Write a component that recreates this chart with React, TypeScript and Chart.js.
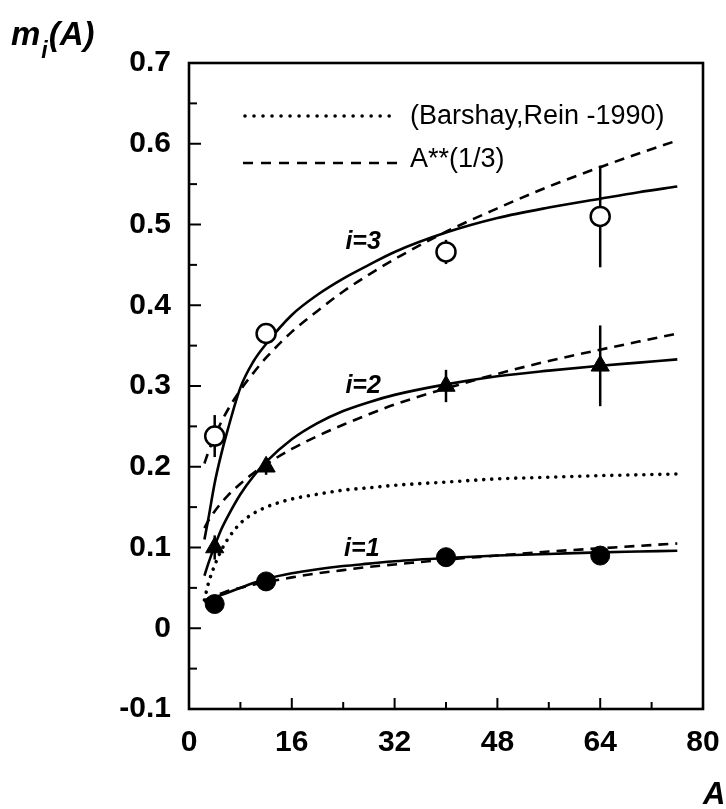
import React, { useEffect, useRef } from 'react';
import { Chart, registerables } from 'chart.js';

Chart.register(...registerables);

// ---------- data ----------
const xTicks = [0, 16, 32, 48, 64, 80];
const yTicks = [-0.1, 0, 0.1, 0.2, 0.3, 0.4, 0.5, 0.6, 0.7];
const yTickLabels = ['-0.1', '0', '0.1', '0.2', '0.3', '0.4', '0.5', '0.6', '0.7'];

// measured points (A = mass number)
const massNumbers = [4, 12, 40, 64];
const m1Values = [0.03, 0.058, 0.088, 0.09];
const m1Errors = [0.005, 0.005, 0.005, 0.005];
const m2Values = [0.1, 0.2, 0.3, 0.325];
const m2Errors = [0.015, 0.01, 0.02, 0.05];
const m3Values = [0.238, 0.365, 0.466, 0.51];
const m3Errors = [0.026, 0.013, 0.015, 0.063];

// curves
const curveA = [2.4, 3, 4, 5, 6, 8, 10, 12, 16, 20, 24, 28, 32, 40, 48, 56, 64, 70, 76];
const fit1 = [0.032, 0.034, 0.038, 0.041, 0.044, 0.05, 0.056, 0.061, 0.068, 0.073, 0.077, 0.08, 0.083, 0.087, 0.09, 0.092, 0.094, 0.095, 0.096];
const fit2 = [0.065, 0.08, 0.102, 0.122, 0.138, 0.166, 0.188, 0.206, 0.234, 0.254, 0.269, 0.28, 0.289, 0.302, 0.312, 0.319, 0.325, 0.329, 0.333];
const fit3 = [0.11, 0.135, 0.18, 0.215, 0.245, 0.298, 0.33, 0.352, 0.388, 0.413, 0.433, 0.45, 0.466, 0.49, 0.508, 0.521, 0.532, 0.54, 0.547];
const cube1 = [0.034, 0.037, 0.04, 0.043, 0.046, 0.05, 0.054, 0.057, 0.063, 0.068, 0.072, 0.076, 0.079, 0.085, 0.09, 0.095, 0.099, 0.102, 0.105];
const cube2 = [0.124, 0.133, 0.145, 0.155, 0.164, 0.179, 0.192, 0.203, 0.222, 0.238, 0.252, 0.265, 0.277, 0.297, 0.315, 0.331, 0.345, 0.355, 0.365];
const cube3 = [0.204, 0.218, 0.238, 0.255, 0.27, 0.295, 0.316, 0.335, 0.367, 0.393, 0.417, 0.438, 0.457, 0.491, 0.52, 0.547, 0.571, 0.588, 0.604];
const barshay = [0.035, 0.055, 0.078, 0.096, 0.11, 0.13, 0.142, 0.15, 0.16, 0.166, 0.171, 0.174, 0.177, 0.181, 0.185, 0.187, 0.189, 0.19, 0.191];

const legendLabels = ['(Barshay,Rein -1990)', 'A**(1/3)'];
const curveLabels = ['i=1', 'i=2', 'i=3'];
const curveLabelA = [26.9, 27.1, 27.1];
const curveLabelY = [0.098, 0.3, 0.478];

const FONT = '"Liberation Sans", Arial, Helvetica, sans-serif';

const toPts = (xs: number[], ys: number[]) => xs.map((x, i) => ({ x, y: ys[i] }));

const errorSets = [
  { values: m1Values, errors: m1Errors },
  { values: m2Values, errors: m2Errors },
  { values: m3Values, errors: m3Errors },
];

const errorBarPlugin = {
  id: 'errorBars',
  beforeDatasetsDraw(chart: any) {
    const { ctx, scales } = chart;
    const xs = scales.x;
    const ys = scales.y;
    ctx.save();
    ctx.strokeStyle = '#000';
    ctx.lineWidth = 2.5;
    errorSets.forEach((s) => {
      massNumbers.forEach((a, i) => {
        const px = xs.getPixelForValue(a);
        ctx.beginPath();
        ctx.moveTo(px, ys.getPixelForValue(s.values[i] - s.errors[i]));
        ctx.lineTo(px, ys.getPixelForValue(s.values[i] + s.errors[i]));
        ctx.stroke();
      });
    });
    ctx.restore();
  },
};

const framePlugin = {
  id: 'frameDecor',
  afterDraw(chart: any) {
    const { ctx, chartArea: ca, scales } = chart;
    const xs = scales.x;
    const ys = scales.y;
    ctx.save();
    ctx.strokeStyle = '#000';
    ctx.fillStyle = '#000';
    // box
    ctx.lineWidth = 2.6;
    ctx.setLineDash([]);
    ctx.strokeRect(ca.left, ca.top, ca.right - ca.left, ca.bottom - ca.top);
    // y ticks (inside)
    ctx.lineWidth = 2;
    for (let k = 0; k <= 16; k++) {
      const v = -0.1 + k * 0.05;
      const py = ys.getPixelForValue(v);
      const len = k % 2 === 0 ? 12 : 8;
      ctx.beginPath();
      ctx.moveTo(ca.left, py);
      ctx.lineTo(ca.left + len, py);
      ctx.stroke();
    }
    // x ticks (inside)
    for (let v = 8; v < 80; v += 8) {
      const px = xs.getPixelForValue(v);
      const len = v % 16 === 0 ? 11 : 7;
      ctx.beginPath();
      ctx.moveTo(px, ca.bottom);
      ctx.lineTo(px, ca.bottom - len);
      ctx.stroke();
    }
    // legend
    const lx0 = ca.left + 56;
    const lx1 = ca.left + 209;
    const ly1 = ca.top + 53;
    const ly2 = ca.top + 100;
    ctx.lineWidth = 3.6;
    ctx.lineCap = 'round';
    ctx.setLineDash([0.01, 9]);
    ctx.beginPath();
    ctx.moveTo(lx0, ly1);
    ctx.lineTo(lx1, ly1);
    ctx.stroke();
    ctx.lineCap = 'butt';
    ctx.lineWidth = 2.6;
    ctx.setLineDash([10, 8]);
    ctx.beginPath();
    ctx.moveTo(lx0 - 2, ly2);
    ctx.lineTo(lx1, ly2);
    ctx.stroke();
    ctx.setLineDash([]);
    ctx.font = `27px ${FONT}`;
    ctx.textAlign = 'left';
    ctx.textBaseline = 'middle';
    ctx.fillText(legendLabels[0], lx1 + 12, ly1 + 1);
    ctx.fillText(legendLabels[1], lx1 + 12, ly2 - 3);
    // curve labels
    ctx.font = `italic bold 25px ${FONT}`;
    ctx.textAlign = 'center';
    curveLabels.forEach((t, i) => {
      ctx.fillText(t, xs.getPixelForValue(curveLabelA[i]), ys.getPixelForValue(curveLabelY[i]));
    });
    // axis titles
    ctx.textAlign = 'left';
    ctx.textBaseline = 'alphabetic';
    ctx.font = `italic bold 33px ${FONT}`;
    ctx.fillText('m', 11, 45);
    const mw = ctx.measureText('m').width;
    ctx.font = `italic bold 23px ${FONT}`;
    ctx.fillText('i', 11 + mw + 1, 58);
    const iw = ctx.measureText('i').width;
    ctx.font = `italic bold 33px ${FONT}`;
    ctx.fillText('(A)', 11 + mw + iw + 2, 45);
    ctx.font = `italic bold 31px ${FONT}`;
    ctx.fillText('A', ca.right, 804);
    ctx.restore();
  },
};

export default function App() {
  const ref = useRef<HTMLCanvasElement | null>(null);

  useEffect(() => {
    if (!ref.current) return;
    const solid = { showLine: true, pointRadius: 0, borderColor: '#000', borderWidth: 2.6, cubicInterpolationMode: 'monotone' as const, fill: false };
    const dashed = { ...solid, borderDash: [10, 7] };
    const dotted = { ...solid, borderDash: [0.01, 8], borderCapStyle: 'round' as const, borderWidth: 3.6 };
    const chart = new Chart(ref.current, {
      type: 'scatter',
      data: {
        datasets: [
          { label: 'm3', data: toPts(massNumbers, m3Values), pointStyle: 'circle', pointRadius: 9.5, backgroundColor: '#fff', borderColor: '#000', borderWidth: 2.5, showLine: false },
          { label: 'm2', data: toPts(massNumbers, m2Values), pointStyle: 'triangle', pointRadius: 10.5, backgroundColor: '#000', borderColor: '#000', borderWidth: 1, showLine: false },
          { label: 'm1', data: toPts(massNumbers, m1Values), pointStyle: 'circle', pointRadius: 9.5, backgroundColor: '#000', borderColor: '#000', borderWidth: 1, showLine: false },
          { label: 'fit3', data: toPts(curveA, fit3), ...solid },
          { label: 'fit2', data: toPts(curveA, fit2), ...solid },
          { label: 'fit1', data: toPts(curveA, fit1), ...solid },
          { label: 'cube3', data: toPts(curveA, cube3), ...dashed },
          { label: 'cube2', data: toPts(curveA, cube2), ...dashed },
          { label: 'cube1', data: toPts(curveA, cube1), ...dashed },
          { label: 'barshay', data: toPts(curveA, barshay), ...dotted },
        ] as any,
      },
      options: {
        responsive: false,
        animation: false,
        events: [],
        layout: { padding: { left: 0, top: 63, right: 23, bottom: 0 } },
        plugins: { legend: { display: false }, tooltip: { enabled: false } },
        scales: {
          x: {
            type: 'linear',
            min: 0,
            max: 80,
            afterBuildTicks: (s: any) => { s.ticks = xTicks.map((v) => ({ value: v })); },
            afterFit: (s: any) => { s.height = 100; s.paddingLeft = 0; s.paddingRight = 0; },
            grid: { display: false, drawTicks: false, tickLength: 0 },
            border: { display: false },
            ticks: { color: '#000', font: { family: FONT, size: 30, weight: 'bold' }, padding: 16, maxRotation: 0, autoSkip: false },
          },
          y: {
            type: 'linear',
            min: -0.1,
            max: 0.7,
            afterBuildTicks: (s: any) => { s.ticks = yTicks.map((v) => ({ value: v })); },
            afterFit: (s: any) => { s.width = 189; s.paddingTop = 0; s.paddingBottom = 0; },
            grid: { display: false, drawTicks: false, tickLength: 0 },
            border: { display: false },
            ticks: { color: '#000', font: { family: FONT, size: 30, weight: 'bold' }, padding: 18, autoSkip: false, callback: (_v: any, i: number) => yTickLabels[i] },
          },
        },
      } as any,
      plugins: [errorBarPlugin, framePlugin],
    });
    return () => chart.destroy();
  }, []);

  return (
    <div style={{ position: 'absolute', left: 0, top: 0, width: 726, height: 809, background: '#fff' }}>
      <canvas ref={ref} width={726} height={809} style={{ display: 'block', width: 726, height: 809 }} />
    </div>
  );
}
